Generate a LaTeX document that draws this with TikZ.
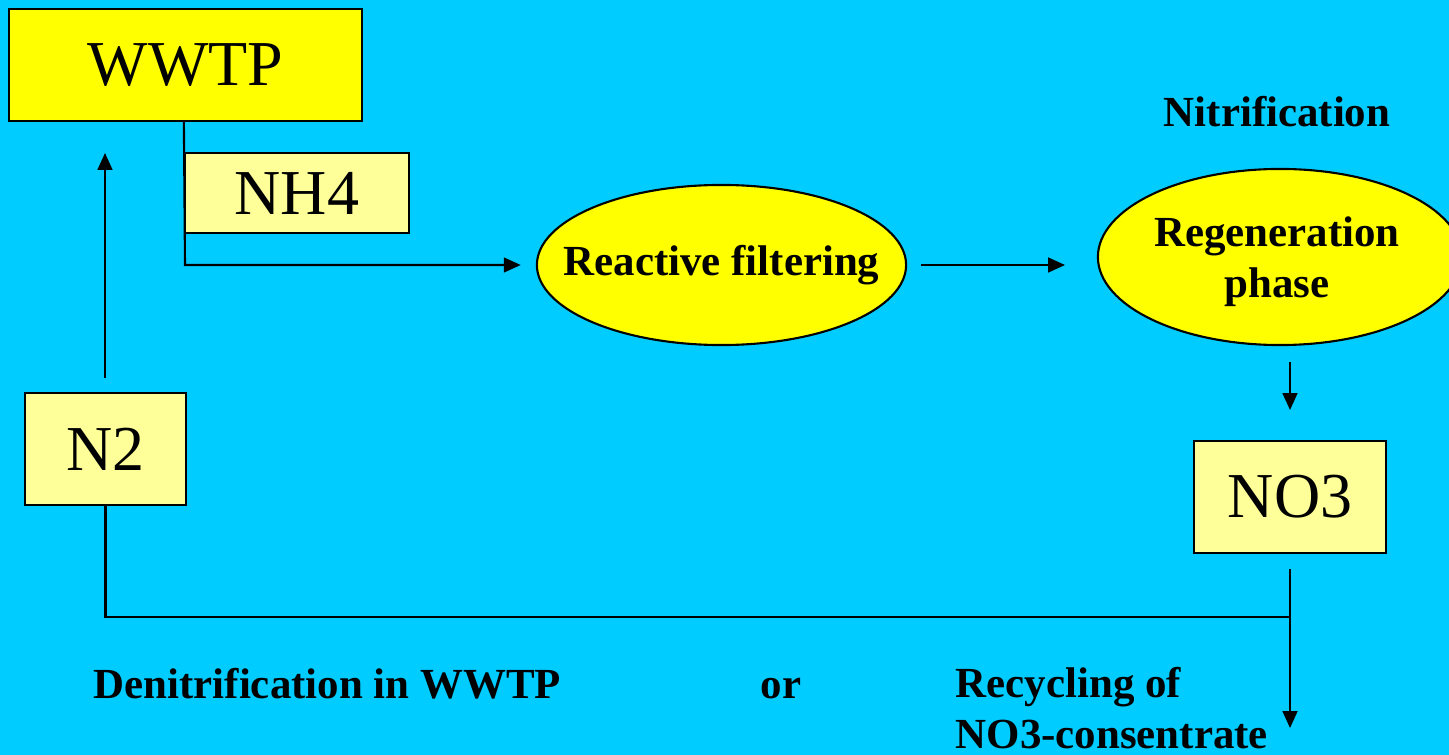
\documentclass[tikz,border=0pt]{standalone}
\usepackage{fontspec}
\setmainfont{Liberation Serif}
\usetikzlibrary{arrows.meta,shapes.geometric,calc}
\definecolor{bg}{HTML}{00CCFF}
\definecolor{yel}{HTML}{FFFF00}
\definecolor{lyel}{HTML}{FFFF99}
\begin{document}
\begin{tikzpicture}[x=0.01cm,y=-0.01cm,
  conn/.style={line width=0.6pt,black},
  arr/.style={conn,-{Triangle[length=4.8pt,width=4.2pt]}},
  bigbox/.style={draw,line width=0.6pt,fill=yel,inner sep=0pt,font=\fontsize{18.2}{20}\selectfont},
  smallbox/.style={draw,line width=0.6pt,fill=lyel,inner sep=0pt,font=\fontsize{18.2}{20}\selectfont},
  ell/.style={draw,line width=0.6pt,fill=yel,ellipse,inner sep=0pt},
  lbl/.style={inner sep=0pt,align=center,font=\fontsize{12.2}{14.5}\selectfont\bfseries}]
\fill[bg] (0,0) rectangle (1449,755);
\useasboundingbox (0,0) rectangle (1449,755);
\node[bigbox,minimum width=3.53cm,minimum height=1.12cm] (wwtp) at (185.5,65) {WWTP};
\node[smallbox,minimum width=2.24cm,minimum height=0.80cm] (nh4) at (297,193) {NH4};
\node[smallbox,minimum width=1.61cm,minimum height=1.12cm] (n2) at (105.5,449) {N2};
\node[smallbox,minimum width=1.92cm,minimum height=1.12cm] (no3) at (1290,497) {NO3};
\node[ell,minimum width=3.69cm,minimum height=1.60cm] (rf) at (721.5,265) {};
\node[lbl] (rft) at (rf) {Reactive filtering};
\node[ell,minimum width=3.64cm,minimum height=1.76cm] (rg) at (1280,257) {};
\node[lbl] (rgt) at (1277,262) {Regeneration\\phase};
\node[lbl] (nit) at (1277,112) {Nitrification};
\node[lbl,anchor=base west] (den) at (93,698) {Denitrification in WWTP};
\node[lbl,anchor=base] (or) at (781,698) {or};
\node[lbl,anchor=base west,align=left] (rec) at (955,748) {Recycling of\\NO3-consentrate};
% connectors
\coordinate (c1) at (185,265);
\draw[arr,shorten >=4.3pt] (nh4.west |- wwtp.south) -- (c1) -- (rf.west);
\coordinate (a1) at (921,265);
\coordinate (a2) at (1065,265);
\draw[arr] (a1) -- (a2);
\coordinate (b1) at (1290,362);
\coordinate (b2) at (1290,410);
\draw[arr] (b1) -- (b2);
\coordinate (d1) at (1290,569);
\coordinate (d2) at (1290,728);
\draw[arr] (d1) -- (d2);
\coordinate (j) at (1290,617);
\draw[conn] (n2.south) |- (j);
\coordinate (e1) at (105,378);
\coordinate (e2) at (105,153);
\draw[arr] (e1) -- (e2);
\end{tikzpicture}
\end{document}
